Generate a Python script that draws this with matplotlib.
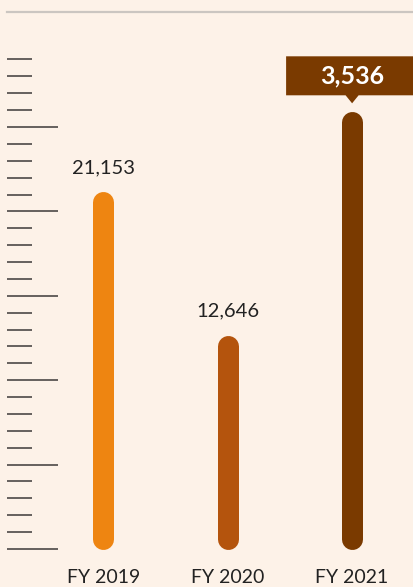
import matplotlib
matplotlib.use("Agg")
import matplotlib.pyplot as plt
from matplotlib.patches import Polygon
from matplotlib.transforms import IdentityTransform, blended_transform_factory

# --- data ---
years = ["FY 2019", "FY 2020", "FY 2021"]
bar_heights = [21153, 12646, 25900]      # FY 2021 bar height
value_labels = ["21,153", "12,646", "3,536"]
bar_colors = ["#ee8511", "#b4540d", "#7a3a00"]
scale_ticks = list(range(0, 30000, 1000))

BG = "#fdf2e8"
DPI = 100
W, H = 414, 587

plt.rcParams["font.family"] = ["Lato", "DejaVu Sans"]

fig = plt.figure(figsize=(W / DPI, H / DPI), dpi=DPI, facecolor=BG)
ax = fig.add_axes([0, 0, 1, 1])
ax.set_facecolor(BG)
ax.axis("off")

# pixel layout helpers: baseline at y=549px, 1000 units = 16.88px
base_px, unit_px = 549, 16.88 / 1000
x0_px, step_px = 103.5, 124.3
ax.set_xlim(-x0_px / step_px, (W - x0_px) / step_px)
ax.set_ylim(-(H - base_px) / unit_px, base_px / unit_px)

# scale ticks on the left
tr = blended_transform_factory(ax.transAxes, ax.transData)
for t in scale_ticks:
    long_tick = (t // 1000) % 5 == 0
    ax.plot([7 / W, (58 if long_tick else 32) / W], [t, t], transform=tr,
            color="#3d3a38", lw=1.1, solid_capstyle="butt")

# top rule
ax.plot([7 / W, 1], [(base_px - 11.7) / unit_px] * 2, transform=tr,
        color="#cbc6c1", lw=1.6)

# rounded bars
lw_px = 21
cap = (lw_px / 2) / unit_px
for i, (h, c) in enumerate(zip(bar_heights, bar_colors)):
    ax.plot([i, i], [cap, h - cap], color=c, lw=lw_px * 72 / DPI,
            solid_capstyle="round")

# value labels
for i in range(2):
    ax.annotate(value_labels[i], (i, bar_heights[i]), xytext=(0, 24.5 * 72 / DPI),
                textcoords="offset points", ha="center", va="center",
                fontsize=14.5, color="#222222")

# callout box for last bar
fig.canvas.draw()
bx, by = ax.transData.transform((2, bar_heights[2]))
tip, bot, top, hw, pw = 8.5, 16.5, 55.5, 66, 6.5
pts = [(bx, by + tip), (bx - pw, by + bot), (bx - hw, by + bot), (bx - hw, by + top),
       (bx + hw, by + top), (bx + hw, by + bot), (bx + pw, by + bot)]
fig.patches.append(Polygon(pts, closed=True, transform=IdentityTransform(),
                           facecolor=bar_colors[2], edgecolor="none"))
fig.text(bx / W, (by + (bot + top) / 2) / H, value_labels[2], ha="center",
         va="center", fontsize=18, fontweight="bold", color="white")

# category labels
for i, yr in enumerate(years):
    ax.text(i, -(577.5 - base_px) / unit_px, yr, ha="center", va="center",
            fontsize=14, color="#222222")

fig.savefig("out.png", dpi=DPI, facecolor=BG)
